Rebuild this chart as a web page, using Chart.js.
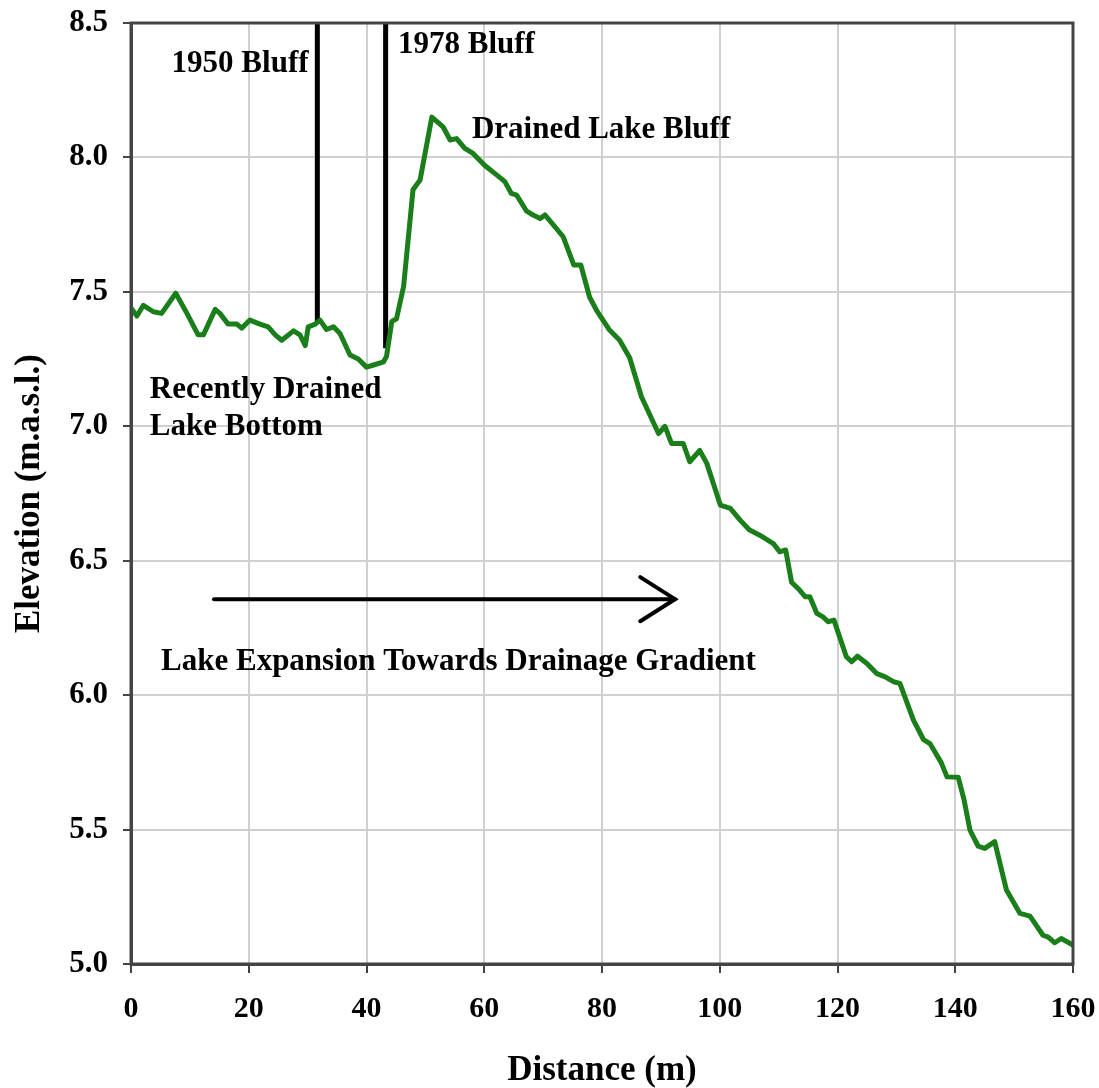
<!DOCTYPE html>
<html>
<head>
<meta charset="utf-8">
<script src="https://cdn.jsdelivr.net/npm/chart.js@4.4.1/dist/chart.umd.min.js"></script>
<style>
  html, body { margin: 0; padding: 0; background: #ffffff; }
  #wrap { width: 1099px; height: 1088px; position: relative; }
</style>
</head>
<body>
<div id="wrap"><canvas id="c" width="1099" height="1088"></canvas></div>
<script>
// ---- Data ----
const distance = [0, 1.0, 2.1, 3.8, 5.2, 7.6, 9.5, 11.4, 12.3, 14.3, 15.1, 16.5, 18.0, 18.8, 20.2, 21.9, 23.3, 24.5, 25.6, 27.6, 28.7, 29.6, 30.1, 31.3, 32.1, 33.2, 34.4, 35.5, 37.2, 38.6, 40.0, 41.2, 42.9, 43.4, 44.3, 45.1, 46.3, 47.9, 49.1, 51.1, 53.0, 54.2, 55.3, 56.7, 58.1, 60.1, 62.1, 63.5, 64.6, 65.5, 67.2, 68.3, 69.5, 70.3, 71.7, 73.4, 75.2, 76.4, 77.9, 79.1, 81.2, 83.0, 84.7, 86.7, 89.6, 90.7, 91.8, 93.8, 94.9, 96.6, 97.8, 100.1, 101.8, 103.5, 105.0, 106.8, 109.1, 110.2, 111.2, 112.2, 113.6, 114.5, 115.3, 116.5, 117.6, 118.4, 119.4, 121.5, 122.4, 123.4, 125.0, 126.7, 128.1, 129.5, 130.6, 132.9, 134.6, 135.7, 137.6, 138.6, 140.5, 141.5, 142.5, 143.9, 145.0, 146.7, 148.7, 151.0, 152.7, 154.9, 155.8, 156.9, 158.0, 160.0];
const elevation = [7.44, 7.41, 7.45, 7.426, 7.42, 7.495, 7.42, 7.34, 7.34, 7.435, 7.42, 7.38, 7.38, 7.365, 7.395, 7.38, 7.37, 7.34, 7.32, 7.355, 7.34, 7.30, 7.37, 7.38, 7.395, 7.36, 7.37, 7.345, 7.265, 7.25, 7.22, 7.228, 7.24, 7.26, 7.39, 7.40, 7.52, 7.88, 7.916, 8.15, 8.114, 8.065, 8.07, 8.034, 8.015, 7.97, 7.935, 7.91, 7.866, 7.86, 7.80, 7.786, 7.773, 7.786, 7.75, 7.705, 7.60, 7.60, 7.48, 7.43, 7.36, 7.32, 7.255, 7.11, 6.973, 7.0, 6.936, 6.936, 6.868, 6.91, 6.862, 6.707, 6.695, 6.65, 6.615, 6.595, 6.564, 6.533, 6.54, 6.42, 6.39, 6.366, 6.366, 6.304, 6.29, 6.273, 6.279, 6.143, 6.124, 6.145, 6.118, 6.08, 6.068, 6.05, 6.044, 5.907, 5.835, 5.82, 5.75, 5.696, 5.695, 5.61, 5.498, 5.438, 5.43, 5.455, 5.275, 5.188, 5.178, 5.107, 5.10, 5.079, 5.095, 5.07];

// Bluff markers (distance, bottom elevation); they run up to the top of the axis
const bluffDistance = [31.65, 43.25];
const bluffBottom = [7.383, 7.29];

// Arrow: shaft start/end distance and elevation
const arrowDistance = [14.1, 92.4];
const arrowElevation = 6.357;

const xTicks = [0, 20, 40, 60, 80, 100, 120, 140, 160];
const yTicks = [5.0, 5.5, 6.0, 6.5, 7.0, 7.5, 8.0, 8.5];

// Text labels (text, distance at left edge, elevation at baseline)
const labelTexts = ["1950 Bluff", "1978 Bluff", "Drained Lake Bluff", "Recently Drained", "Lake Bottom", "Lake Expansion Towards Drainage Gradient"];
const labelDistance = [6.9, 45.35, 57.9, 3.2, 3.2, 5.1];
const labelElevation = [8.318, 8.388, 8.072, 7.105, 6.967, 6.093];

// ---- Build datasets ----
const YMAX = 8.5, YMIN = 5.0;
const profile = distance.map((d, i) => ({x: d, y: elevation[i]}));
const bluffSets = bluffDistance.map((d, i) => ({
  data: [{x: d, y: YMAX}, {x: d, y: bluffBottom[i]}],
  borderColor: '#000000', borderWidth: 5, pointRadius: 0, borderCapStyle: 'butt'
}));
const headBack = 5.9, headHalf = 0.082;
const arrowSets = [
  { data: [{x: arrowDistance[0], y: arrowElevation}, {x: arrowDistance[1], y: arrowElevation}],
    borderColor: '#000000', borderWidth: 4, pointRadius: 0, borderCapStyle: 'round' },
  { data: [{x: arrowDistance[1] - headBack, y: arrowElevation + headHalf}, {x: arrowDistance[1], y: arrowElevation}, {x: arrowDistance[1] - headBack, y: arrowElevation - headHalf}],
    borderColor: '#000000', borderWidth: 4, pointRadius: 0, borderCapStyle: 'round', borderJoinStyle: 'miter' }
];

const serif = "'Liberation Serif', 'Times New Roman', serif";

const labelPlugin = {
  id: 'labels',
  afterDatasetsDraw(chart) {
    const {ctx, scales: {x, y}} = chart;
    ctx.save();
    ctx.fillStyle = '#000000';
    ctx.font = "bold 31px " + serif;
    ctx.textAlign = 'left';
    ctx.textBaseline = 'alphabetic';
    labelTexts.forEach((t, i) => {
      ctx.fillText(t, x.getPixelForValue(labelDistance[i]), y.getPixelForValue(labelElevation[i]));
    });
    ctx.restore();
  }
};

const framePlugin = {
  id: 'frame',
  afterDraw(chart) {
    const {ctx, chartArea: a} = chart;
    ctx.save();
    ctx.strokeStyle = '#444444';
    ctx.lineWidth = 3;
    ctx.strokeRect(a.left, a.top, a.right - a.left, a.bottom - a.top);
    ctx.restore();
  }
};

new Chart(document.getElementById('c'), {
  type: 'line',
  data: {
    datasets: [
      { data: profile, borderColor: '#1a7f1a', borderWidth: 5, pointRadius: 0, tension: 0, borderJoinStyle: 'round', borderCapStyle: 'round' },
      ...bluffSets,
      ...arrowSets
    ]
  },
  options: {
    responsive: false,
    animation: false,
    layout: { padding: { top: 23, right: 26, left: 0, bottom: 0 } },
    plugins: { legend: { display: false }, tooltip: { enabled: false } },
    scales: {
      x: {
        type: 'linear', min: 0, max: 160,
        afterBuildTicks: (s) => { s.ticks = xTicks.map(v => ({value: v})); },
        afterFit: (s) => { s.height = 124; s.paddingLeft = 0; s.paddingRight = 0; },
        grid: { color: '#d0d0d0', lineWidth: 2, tickColor: '#444444', tickLength: 9, drawTicks: true },
        border: { color: '#444444', width: 3 },
        ticks: { color: '#000000', padding: 18, font: { family: serif, size: 30, weight: 'bold' }, maxRotation: 0, autoSkip: false },
        title: { display: true, text: 'Distance (m)', color: '#000000', padding: { top: 0, bottom: 0 }, font: { family: serif, size: 35, weight: 'bold', lineHeight: 1.0 } }
      },
      y: {
        type: 'linear', min: YMIN, max: YMAX,
        afterBuildTicks: (s) => { s.ticks = yTicks.map(v => ({value: v})); },
        afterFit: (s) => { s.width = 131; s.paddingTop = 0; s.paddingBottom = 0; },
        grid: { color: '#d0d0d0', lineWidth: 2, tickColor: '#444444', tickLength: 8, drawTicks: true },
        border: { color: '#444444', width: 3 },
        ticks: { color: '#000000', padding: 15, font: { family: serif, size: 31, weight: 'bold' }, callback: (v) => Number(v).toFixed(1), autoSkip: false },
        title: { display: true, text: 'Elevation (m.a.s.l.)', color: '#000000', padding: { top: 9, bottom: 0 }, font: { family: serif, size: 35, weight: 'bold', lineHeight: 1.2 } }
      }
    }
  },
  plugins: [labelPlugin, framePlugin]
});
</script>
</body>
</html>
